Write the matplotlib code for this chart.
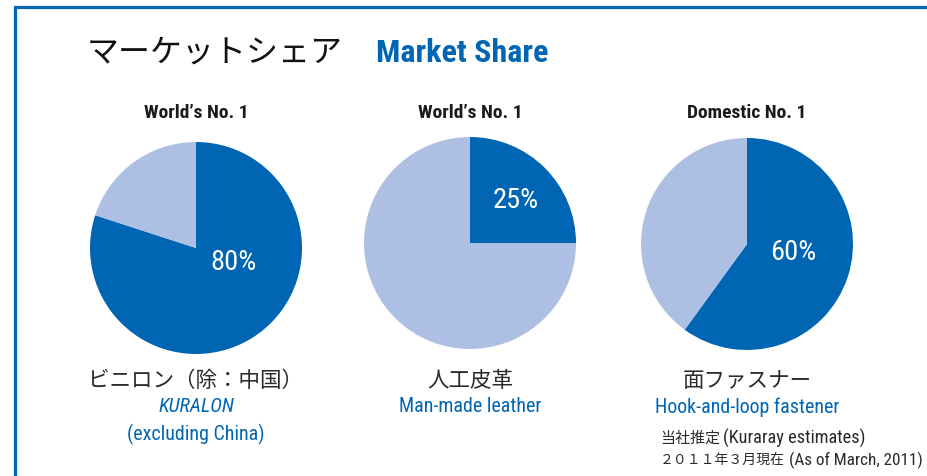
import matplotlib.pyplot as plt
from matplotlib import font_manager

# Market share data (Kuraray, as of March 2011)
headers = ["World\u2019s No. 1", "World\u2019s No. 1", "Domestic No. 1"]
names_jp = ["ビニロン（除：中国）", "人工皮革", "面ファスナー"]
names_en = ["KURALON", "Man-made leather", "Hook-and-loop fastener"]
notes_en = ["(excluding China)", "", ""]
shares = [80, 25, 60]
source_jp = ["当社推定", "２０１１年３月現在"]
source_en = ["(Kuraray estimates)", "(As of March, 2011)"]

dark = "#0066b3"
light = "#adc0e3"

# a condensed face would be closer, use whatever is there
names = {f.name for f in font_manager.fontManager.ttflist}
narrow = "Roboto"
for f in ["Roboto Condensed", "Liberation Sans Narrow"]:
    if f in names:
        narrow = f
        break
latin = [narrow, "Noto Sans CJK JP"]
jp = ["Noto Sans CJK JP", "DejaVu Sans"]

W, H = 927, 476
fig = plt.figure(figsize=(W / 100, H / 100), dpi=100)
ax = fig.add_axes([0, 0, 1, 1])

# pie layout in pixel units (y measured from top)
centers = [(196, 248), (470, 243), (747, 244)]
radius = 106
label_off = [(38, 14), (46, -42), (46, 8)]

for i, s in enumerate(shares):
    cx, cy = centers[i]
    ax.pie([s, 100 - s], colors=[dark, light], startangle=90, counterclock=False,
           center=(cx, H - cy), radius=radius, frame=True,
           wedgeprops=dict(linewidth=0))
    ax.text(cx + label_off[i][0], H - cy - label_off[i][1], f"{s}%", color="white",
            fontsize=20.5, family=latin, ha="center", va="center")
    ax.text(cx, H - 113, headers[i], fontsize=14, fontweight="bold", family=latin,
            ha="center", va="center", color="#1a1a1a")
    ax.text(cx, H - 381, names_jp[i], fontsize=15.5, family=jp, ha="center", va="center",
            color="#2a2a2a")
    ax.text(cx, H - 407, names_en[i], fontsize=14.4, family=latin, ha="center",
            va="center", color=dark, style="italic" if i == 0 else "normal")
    if notes_en[i]:
        ax.text(cx, H - 434, notes_en[i], fontsize=14.4, family=latin, ha="center",
                va="center", color=dark)

# title
ax.text(87, H - 53, "マーケットシェア", fontsize=23, family=jp, ha="left", va="center",
        color="#111111")
ax.text(376, H - 53, "Market Share", fontsize=23, fontweight="bold", family=latin,
        ha="left", va="center", color=dark)

# footnote
ax.text(660, H - 438, source_jp[0], fontsize=10.8, family=jp, ha="left", va="center",
        color="#2a2a2a")
ax.text(723, H - 438, source_en[0], fontsize=13.2, family=latin, ha="left", va="center",
        color="#2a2a2a")
ax.text(660, H - 460, source_jp[1], fontsize=10, family=jp, ha="left", va="center",
        color="#2a2a2a")
ax.text(789, H - 460, source_en[1], fontsize=12.3, family=latin, ha="left", va="center",
        color="#2a2a2a")

# frame lines
ax.plot([15, 15, W], [0, H - 7, H - 7], color=dark, lw=2.3, solid_joinstyle="miter")

ax.set_xlim(0, W)
ax.set_ylim(0, H)
ax.set_aspect("auto")
ax.axis("off")

fig.savefig("out.png", dpi=100)
